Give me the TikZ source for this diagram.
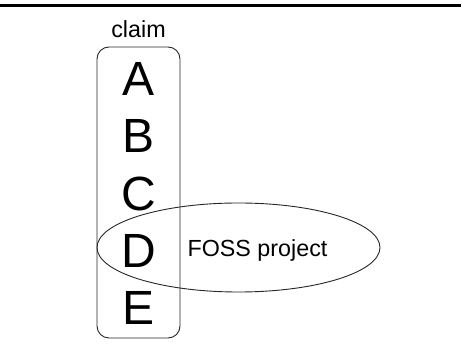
\documentclass[tikz,border=0pt]{standalone}
\usepackage{fontspec}
\setmainfont{Liberation Sans}
\usetikzlibrary{shapes.geometric}
\begin{document}
\begin{tikzpicture}[x=1pt,y=-1pt,
  letter/.style={anchor=base,inner sep=0pt,font=\fontsize{48}{48}\selectfont},
  small/.style={anchor=base,inner sep=0pt,font=\fontsize{23.3}{23.3}\selectfont},
  thin line/.style={draw=black!85,line width=0.9pt}]
\useasboundingbox (0,0) rectangle (461,344);
\coordinate (topl) at (0,5.5);
\coordinate (topr) at (461,5.5);
\draw[line width=3pt] (topl) -- (topr);
\node[thin line,rounded corners=12pt,rectangle,minimum width=83pt,minimum height=291pt,inner sep=0pt] (box) at (138.5,192.5) {};
\node[thin line,ellipse,minimum width=283pt,minimum height=89pt,inner sep=0pt] (foss) at (238.5,247.5) {};
\node[small] (claim) at (138.5,37.5) {claim};
\node[letter] (A) at (139,96) {A};
\node[letter] (B) at (139,153) {B};
\node[letter] (C) at (139,210.5) {C};
\node[letter] (D) at (139,268) {D};
\node[letter] (E) at (139,325) {E};
\node[small] (fosslabel) at (257.5,256.5) {FOSS project};
\end{tikzpicture}
\end{document}
